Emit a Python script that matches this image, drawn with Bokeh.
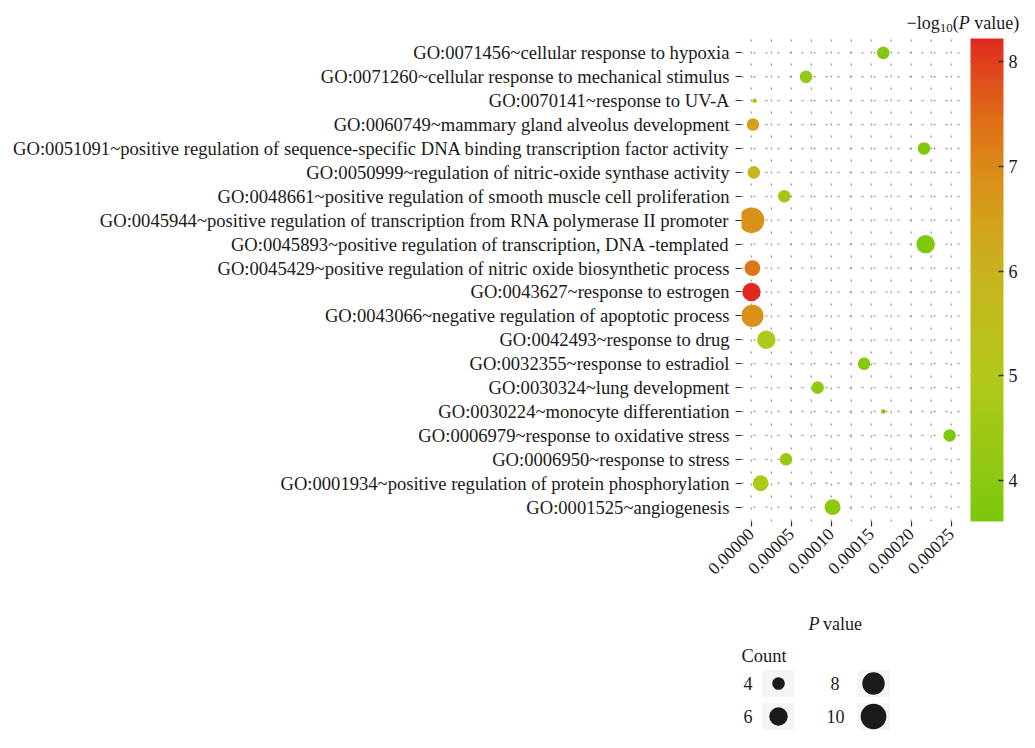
import numpy as np
from bokeh.plotting import figure
from bokeh.models import (Range1d, FixedTicker, ColorBar, LinearColorMapper, Label,
                          ColumnDataSource, PrintfTickFormatter)
from bokeh.layouts import column
from bokeh.embed import file_html
from bokeh.resources import INLINE

# ---------------- data ----------------
terms = [
    "GO:0071456~cellular response to hypoxia",
    "GO:0071260~cellular response to mechanical stimulus",
    "GO:0070141~response to UV-A",
    "GO:0060749~mammary gland alveolus development",
    "GO:0051091~positive regulation of sequence-specific DNA binding transcription factor activity",
    "GO:0050999~regulation of nitric-oxide synthase activity",
    "GO:0048661~positive regulation of smooth muscle cell proliferation",
    "GO:0045944~positive regulation of transcription from RNA polymerase II promoter",
    "GO:0045893~positive regulation of transcription, DNA -templated",
    "GO:0045429~positive regulation of nitric oxide biosynthetic process",
    "GO:0043627~response to estrogen",
    "GO:0043066~negative regulation of apoptotic process",
    "GO:0042493~response to drug",
    "GO:0032355~response to estradiol",
    "GO:0030324~lung development",
    "GO:0030224~monocyte differentiation",
    "GO:0006979~response to oxidative stress",
    "GO:0006950~response to stress",
    "GO:0001934~positive regulation of protein phosphorylation",
    "GO:0001525~angiogenesis",
]
p_value = [0.000165, 0.0000683, 0.000004, 0.000002, 0.000216, 0.000003, 0.0000412,
           0.0000002, 0.000218, 0.0000012, 0.0000001, 0.0000012, 0.0000187, 0.000141,
           0.0000829, 0.000165, 0.000248, 0.0000433, 0.0000116, 0.0001016]
neg_log10_p = [3.78, 4.17, 5.8, 6.5, 3.67, 5.9, 4.6, 6.8, 3.66, 7.3, 8.22, 6.8, 4.9,
               3.85, 4.08, 3.78, 3.61, 4.4, 4.9, 4.0]
count = [4, 4, 3, 4, 4, 4, 4, 10, 6, 5, 6, 8, 6, 4, 4, 3, 4, 4, 5, 5]

x_ticks = [0.0, 0.00005, 0.0001, 0.00015, 0.0002, 0.00025]
cbar_ticks = [4, 5, 6, 7, 8]
legend_counts = [4, 6, 8, 10]

# ---------------- style helpers ----------------
FONT = "Liberation Serif"
TXT = "#1a1a1a"
GRID = "#9a9a9a"
cmin, cmax = 3, 10


def size_of(c):
    c = np.asarray(c, dtype=float)
    return 4.6 + 21.1 * np.sqrt((c - cmin) / (cmax - cmin))


anchor_v = [3.61, 4.0, 5.0, 6.0, 6.5, 7.0, 7.5, 8.0, 8.22]
anchor_c = ["#7dc80c", "#8cc812", "#b3c81a", "#c8b31f", "#d4a01a", "#da8a18",
            "#de6a18", "#e0401e", "#e02a20"]


def hex2rgb(h):
    return [int(h[i:i + 2], 16) for i in (1, 3, 5)]


lo, hi = min(neg_log10_p), max(neg_log10_p)
vs = np.linspace(lo, hi, 256)
rgb = np.array([hex2rgb(c) for c in anchor_c], dtype=float)
palette = []
for v in vs:
    r, g, b = (np.interp(v, anchor_v, rgb[:, k]) for k in range(3))
    palette.append("#%02x%02x%02x" % (int(round(r)), int(round(g)), int(round(b))))
mapper = LinearColorMapper(palette=palette, low=lo, high=hi)

n = len(terms)
ypos = [n - i for i in range(n)]
src = ColumnDataSource(dict(x=p_value, y=ypos, lp=neg_log10_p, size=size_of(count), term=terms))

# ---------------- geometry (pixels) ----------------
TOTAL_W, TOTAL_H = 1019, 732
FL = 741                  # frame left
PANEL_W = 218             # width of the dotted panel
PANEL_H = 483             # height of the dotted panel
PANEL_TOP = 38
FB = PANEL_TOP + PANEL_H  # frame bottom (521)
FW = TOTAL_W - FL
P_H = 600

x_lo, x_hi_panel = -0.0000124, 0.0002604
ppu_x = PANEL_W / (x_hi_panel - x_lo)
y_lo, y_hi_panel = 0.4, n + 0.6
ppu_y = PANEL_H / (y_hi_panel - y_lo)
x_hi = x_lo + FW / ppu_x
y_hi = y_lo + FB / ppu_y

# ---------------- main figure ----------------
p = figure(frame_width=FW, frame_height=FB, output_backend="svg", toolbar_location=None,
           x_range=Range1d(x_lo, x_hi), y_range=Range1d(y_lo, y_hi),
           min_border_left=FL, min_border_right=0, min_border_top=0,
           min_border_bottom=P_H - FB)
p.outline_line_color = None
p.background_fill_color = "white"
p.xgrid.visible = False
p.ygrid.visible = False

# dotted grid, limited to the panel
vgrid = [i * 0.000025 for i in range(11)]
p.segment(x0=vgrid, y0=[y_lo] * len(vgrid), x1=vgrid, y1=[y_hi_panel] * len(vgrid),
          line_color=GRID, line_width=1.3, line_dash="2 10")
p.segment(x0=[x_lo] * n, y0=ypos, x1=[x_hi_panel] * n, y1=ypos,
          line_color=GRID, line_width=1.3, line_dash="2 10")

p.scatter("x", "y", source=src, size="size", marker="circle",
          fill_color={"field": "lp", "transform": mapper}, line_color=None)

p.xaxis.ticker = FixedTicker(ticks=x_ticks)
p.xaxis.formatter = PrintfTickFormatter(format="%.5f")
p.xaxis.major_label_orientation = np.pi / 4
p.yaxis.ticker = FixedTicker(ticks=ypos)
p.yaxis.major_label_overrides = {y: t for y, t in zip(ypos, terms)}

for ax in (p.xaxis, p.yaxis):
    ax.axis_line_color = None
    ax.major_tick_in = 0
    ax.minor_tick_line_color = None
    ax.major_tick_line_color = "#333333"
    ax.major_tick_line_width = 1.2
    ax.major_label_text_font = FONT
    ax.major_label_text_color = TXT
p.yaxis.major_tick_out = 6
p.yaxis.major_label_standoff = 6
p.yaxis.major_label_text_font_size = "18.6px"
p.xaxis.major_tick_out = 5
p.xaxis.major_label_standoff = 5
p.xaxis.major_label_text_font_size = "17.5px"

CB_X = 970 - FL
cb = ColorBar(color_mapper=mapper, ticker=FixedTicker(ticks=cbar_ticks), width=33,
              height=PANEL_H, location=(CB_X, 0), padding=0, label_standoff=5,
              major_label_text_font=FONT, major_label_text_font_size="18px",
              major_label_text_color=TXT, major_tick_line_color="#333333",
              major_tick_line_width=1.3, major_tick_in=5, major_tick_out=0,
              bar_line_color=None, border_line_color=None, background_fill_color=None)
p.add_layout(cb, "center")
# tick marks on the left edge of the colour bar
cb_y = [y_lo + (v - lo) / (hi - lo) * (y_hi_panel - y_lo) for v in cbar_ticks]
cbx0 = x_lo + CB_X / ppu_x
p.segment(x0=[cbx0] * len(cb_y), y0=cb_y, x1=[cbx0 + 5 / ppu_x] * len(cb_y), y1=cb_y,
          line_color="#333333", line_width=1.3)


def lab(fig, text, sx, sy, size="18px", style="normal", baseline="alphabetic"):
    fig.add_layout(Label(x=sx, y=sy, x_units="screen", y_units="screen", text=text,
                         text_font=FONT, text_font_size=size, text_font_style=style,
                         text_color=TXT, text_baseline=baseline, text_align="left"))


# colour bar title: −log10(P value)
tx, ty = 906 - FL, FB - 22
lab(p, "\u2212log", tx, ty)
lab(p, "10", tx + 33.2, ty - 5, size="13px")
lab(p, "(", tx + 46.2, ty)
lab(p, "P", tx + 52.2, ty, style="italic")
lab(p, "value)", tx + 67.7, ty)

# ---------------- lower part: x title and size legend ----------------
Q_H = TOTAL_H - P_H
q = figure(frame_width=FW, frame_height=Q_H, output_backend="svg", toolbar_location=None,
           x_range=Range1d(0, FW), y_range=Range1d(0, Q_H),
           min_border_left=FL, min_border_right=0, min_border_top=0, min_border_bottom=0,
           x_axis_location=None, y_axis_location=None)
q.outline_line_color = None
q.grid.visible = False


def qy(ref_y):
    return TOTAL_H - ref_y


lab(q, "P", 808 - FL, qy(623), style="italic")
lab(q, "value", 822.5 - FL, qy(623))

kx = [778 - FL, 778 - FL, 873 - FL, 873 - FL]
ky = [qy(683), qy(716), qy(683), qy(716)]
lsrc = ColumnDataSource(dict(x=kx, y=ky, size=size_of(legend_counts)))
q.rect("x", "y", width=32, height=27, source=lsrc, fill_color="#f5f5f5", line_color=None)
q.scatter("x", "y", size="size", source=lsrc, marker="circle", fill_color="#1a1a1a",
          line_color=None)
lab(q, "Count", 741 - FL, qy(655), size="18.5px")
for xx, yy, t in zip([743 - FL, 743 - FL, 830 - FL, 826 - FL], ky,
                     [str(c) for c in legend_counts]):
    lab(q, t, xx, yy, baseline="middle")

layout = column(p, q, spacing=0)
open("out.html", "w").write(file_html(layout, INLINE))
